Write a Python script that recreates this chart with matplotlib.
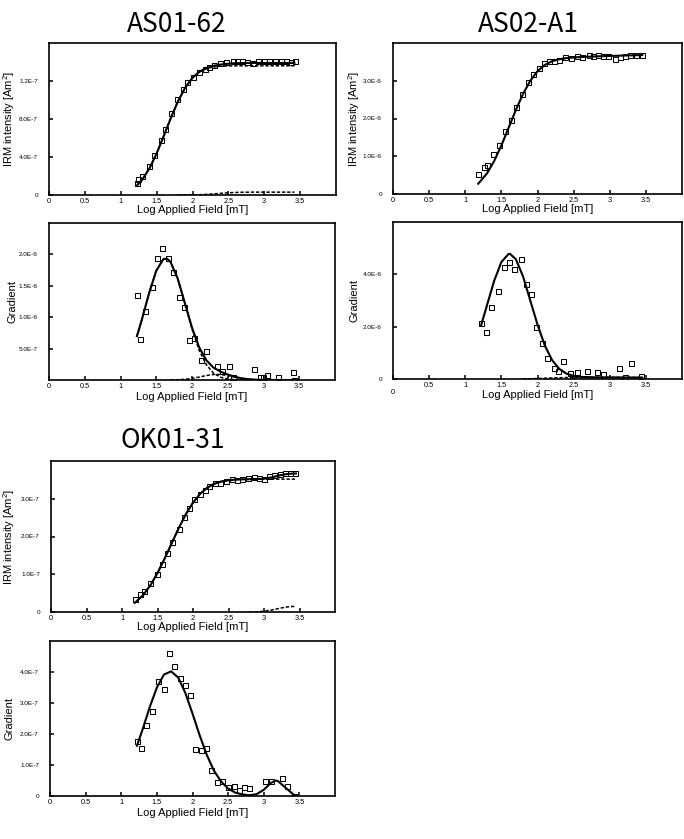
import numpy as np
import matplotlib
matplotlib.use("Agg")
import matplotlib.pyplot as plt

plt.rcParams['font.family'] = ['Liberation Sans', 'DejaVu Sans']
plt.rcParams['mathtext.fontset'] = 'custom'
plt.rcParams['mathtext.rm'] = 'Liberation Sans'
plt.rcParams['mathtext.it'] = 'Liberation Sans:italic'

# ==========================================
# AS01-62
# ==========================================
as01_irm_x = [1.22, 1.245, 1.30, 1.39, 1.47, 1.555, 1.61, 1.695, 1.78, 1.865, 1.93, 2.0,
              2.09, 2.17, 2.235, 2.305, 2.38, 2.46, 2.56, 2.625, 2.695, 2.76, 2.845, 2.915,
              2.995, 3.07, 3.15, 3.23, 3.31, 3.37, 3.435]
as01_irm_y = np.array([1.30, 1.72, 2.04, 3.05, 4.21, 5.75, 6.91, 8.60, 10.14, 11.12, 11.86, 12.39,
                       12.95, 13.30, 13.51, 13.68, 13.86, 13.96, 14.11, 14.07, 14.07, 14.04, 13.90, 14.07,
                       14.11, 14.11, 14.11, 14.11, 14.07, 13.96, 14.14]) * 1e-7
as01_fit_x = [1.23, 1.3, 1.4, 1.5, 1.6, 1.7, 1.8, 1.9, 2.0, 2.1, 2.2, 2.3, 2.4, 2.5, 2.6,
              2.7, 2.8, 3.0, 3.2, 3.42]
as01_irm_total = np.array([1.04, 1.62, 2.80, 4.37, 6.22, 8.14, 9.90, 11.32, 12.34, 13.00, 13.39,
                           13.61, 13.74, 13.82, 13.87, 13.89, 13.90, 13.90, 13.90, 13.90]) * 1e-7
as01_irm_c1 = np.array([1.04, 1.62, 2.80, 4.37, 6.22, 8.14, 9.90, 11.32, 12.33, 12.97, 13.32,
                        13.49, 13.56, 13.59, 13.60, 13.60, 13.60, 13.60, 13.60, 13.60]) * 1e-7
as01_c2_x = [1.8, 1.9, 2.0, 2.1, 2.2, 2.3, 2.4, 2.5, 2.6, 2.7, 2.8, 3.0, 3.2, 3.42]
as01_irm_c2 = np.array([0.0, 0.003, 0.012, 0.032, 0.068, 0.12, 0.18, 0.232, 0.268, 0.288,
                        0.297, 0.30, 0.30, 0.30]) * 1e-7

as01_grad_x = [1.23, 1.267, 1.342, 1.439, 1.509, 1.578, 1.662, 1.741, 1.815, 1.889, 1.964,
               2.033, 2.122, 2.196, 2.344, 2.414, 2.512, 2.577, 2.874, 2.957, 2.99, 3.046,
               3.199, 3.408, 3.43]
as01_grad_y = np.array([13.46, 6.60, 10.96, 14.84, 19.47, 21.01, 19.42, 17.24, 13.14, 11.60, 6.44,
                        6.70, 3.19, 4.58, 2.23, 1.49, 2.29, 0.53, 1.70, 0.48, 0.48, 0.74,
                        0.48, 1.22, 0.05]) * 1e-7
as01_gfit_x = [1.23, 1.3, 1.4, 1.5, 1.6, 1.65, 1.7, 1.8, 1.9, 2.0, 2.1, 2.2, 2.3, 2.4, 2.5,
               2.6, 2.7, 2.8, 2.9, 3.0, 3.2, 3.42]
as01_grad_total = np.array([6.99, 9.67, 13.84, 17.40, 19.26, 19.33, 18.79, 16.16, 12.28, 8.35,
                            5.21, 3.15, 1.98, 1.32, 0.87, 0.52, 0.25, 0.11, 0.04, 0.01, 0.0,
                            0.0]) * 1e-7
as01_grad_c1 = np.array([6.99, 9.67, 13.84, 17.40, 19.26, 19.33, 18.78, 16.12, 12.17, 8.10,
                         4.74, 2.44, 1.10, 0.44, 0.16, 0.05, 0.02, 0.0, 0.0, 0.0, 0.0,
                         0.0]) * 1e-7
as01_gc2_x = [1.7, 1.8, 1.9, 2.0, 2.1, 2.2, 2.3, 2.4, 2.5, 2.6, 2.7, 2.8, 2.9, 3.0, 3.42]
as01_grad_c2 = np.array([0.012, 0.04, 0.11, 0.25, 0.47, 0.71, 0.88, 0.88, 0.71, 0.47, 0.25,
                         0.11, 0.04, 0.012, 0.0]) * 1e-7

# ==========================================
# AS02-A1
# ==========================================
as02_irm_x = [1.172, 1.255, 1.302, 1.39, 1.469, 1.557, 1.627, 1.706, 1.785, 1.864, 1.943,
              2.018, 2.087, 2.162, 2.227, 2.301, 2.38, 2.459, 2.543, 2.613, 2.706, 2.775,
              2.84, 2.91, 2.98, 3.073, 3.143, 3.217, 3.287, 3.366, 3.45]
as02_irm_y = np.array([0.543, 0.703, 0.775, 1.051, 1.30, 1.656, 1.950, 2.306, 2.662, 2.965,
                       3.188, 3.348, 3.473, 3.517, 3.535, 3.553, 3.624, 3.597, 3.66, 3.633,
                       3.669, 3.651, 3.669, 3.66, 3.66, 3.589, 3.642, 3.651, 3.678, 3.687,
                       3.695]) * 1e-6
as02_fit_x = [1.18, 1.3, 1.4, 1.5, 1.6, 1.7, 1.8, 1.9, 2.0, 2.1, 2.2, 2.3, 2.4, 2.5, 2.6,
              2.8, 3.0, 3.2, 3.45]
as02_irm_total = np.array([0.273, 0.543, 0.871, 1.285, 1.752, 2.224, 2.652, 3.0, 3.253, 3.418,
                           3.516, 3.57, 3.60, 3.617, 3.628, 3.645, 3.657, 3.668, 3.68]) * 1e-6

as02_grad_x = [1.219, 1.284, 1.353, 1.447, 1.535, 1.605, 1.67, 1.767, 1.837, 1.907, 1.981,
               2.06, 2.135, 2.228, 2.284, 2.353, 2.456, 2.54, 2.679, 2.819, 2.907, 3.126,
               3.205, 3.288, 3.437]
as02_grad_y = np.array([2.146, 1.790, 2.756, 3.352, 4.292, 4.457, 4.203, 4.584, 3.619, 3.238,
                        1.981, 1.359, 0.813, 0.432, 0.317, 0.673, 0.216, 0.279, 0.292, 0.254,
                        0.178, 0.432, 0.089, 0.597, 0.127]) * 1e-6
as02_gfit_x = [1.22, 1.3, 1.4, 1.5, 1.6, 1.62, 1.7, 1.8, 1.9, 2.0, 2.1, 2.2, 2.3, 2.4, 2.5,
               2.6, 2.8, 3.0, 3.2, 3.45]
as02_grad_total = np.array([2.057, 2.81, 3.75, 4.47, 4.78, 4.78, 4.58, 3.92, 3.00, 2.08, 1.29,
                            0.73, 0.39, 0.205, 0.118, 0.08, 0.063, 0.06, 0.058, 0.055]) * 1e-6
as02_gc2_x = [1.8, 2.0, 2.2, 2.4, 2.6, 3.0, 3.45]
as02_grad_c2 = np.array([0.0, 0.02, 0.04, 0.055, 0.06, 0.06, 0.055]) * 1e-6

# ==========================================
# OK01-31
# ==========================================
ok01_irm_x = [1.179, 1.249, 1.306, 1.399, 1.488, 1.568, 1.638, 1.708, 1.797, 1.867, 1.937,
              2.012, 2.092, 2.162, 2.232, 2.307, 2.382, 2.471, 2.555, 2.62, 2.695, 2.77,
              2.854, 2.925, 2.995, 3.07, 3.145, 3.219, 3.294, 3.369, 3.439]
ok01_irm_y = np.array([0.337, 0.479, 0.55, 0.772, 0.994, 1.278, 1.562, 1.846, 2.209, 2.511,
                       2.76, 2.99, 3.132, 3.221, 3.336, 3.407, 3.425, 3.469, 3.523, 3.505,
                       3.531, 3.549, 3.567, 3.549, 3.523, 3.594, 3.638, 3.656, 3.673, 3.691,
                       3.673]) * 1e-7
ok01_fit_x = [1.18, 1.3, 1.4, 1.5, 1.6, 1.7, 1.8, 1.9, 2.0, 2.1, 2.2, 2.3, 2.4, 2.5, 2.6,
              2.7, 2.8, 2.9, 3.0, 3.1, 3.2, 3.3, 3.4, 3.45]
ok01_irm_total = np.array([0.242, 0.453, 0.708, 1.032, 1.413, 1.822, 2.226, 2.592, 2.896, 3.129,
                           3.292, 3.396, 3.458, 3.491, 3.507, 3.515, 3.518, 3.522, 3.532, 3.562,
                           3.61, 3.649, 3.666, 3.669]) * 1e-7
ok01_irm_c1 = np.array([0.242, 0.453, 0.708, 1.032, 1.413, 1.822, 2.226, 2.592, 2.896, 3.129,
                        3.292, 3.396, 3.458, 3.491, 3.507, 3.515, 3.518, 3.52, 3.52, 3.52,
                        3.52, 3.52, 3.52, 3.52]) * 1e-7
ok01_c2_x = [2.8, 2.9, 3.0, 3.1, 3.2, 3.3, 3.4, 3.45]
ok01_irm_c2 = np.array([0.0, 0.004, 0.02, 0.05, 0.09, 0.129, 0.146, 0.149]) * 1e-7

ok01_grad_x = [1.218, 1.278, 1.348, 1.437, 1.516, 1.595, 1.664, 1.743, 1.827, 1.897, 1.967,
               2.041, 2.12, 2.194, 2.264, 2.338, 2.417, 2.501, 2.585, 2.65, 2.724, 2.799,
               3.022, 3.106, 3.254, 3.329, 3.422]
ok01_grad_y = np.array([1.785, 1.538, 2.28, 2.73, 3.72, 3.45, 4.60, 4.18, 3.81, 3.57, 3.25,
                        1.527, 1.495, 1.548, 0.828, 0.441, 0.495, 0.301, 0.333, 0.183, 0.28,
                        0.269, 0.473, 0.473, 0.591, 0.323, 0.0]) * 1e-7
ok01_gfit_x = [1.22, 1.3, 1.4, 1.5, 1.6, 1.7, 1.8, 1.9, 2.0, 2.1, 2.2, 2.3, 2.4, 2.5, 2.6,
               2.7, 2.8, 2.9, 3.0, 3.1, 3.17, 3.2, 3.3, 3.4, 3.44]
ok01_grad_total = np.array([1.62, 2.15, 2.87, 3.50, 3.92, 4.02, 3.82, 3.32, 2.66, 1.96, 1.33,
                            0.82, 0.47, 0.24, 0.11, 0.05, 0.024, 0.06, 0.2, 0.42, 0.50, 0.48,
                            0.28, 0.08, 0.0]) * 1e-7

xticks = [0, 0.5, 1, 1.5, 2, 2.5, 3, 3.5]
xticklabels = ["0", "0.5", "1", "1.5", "2", "2.5", "3", "3.5"]

W, H = 684, 839
fig = plt.figure(figsize=(W / 100, H / 100), dpi=100)


def panel(box, px, py, lines, ylim, yticks, yticklabels, ylabel, ylab_off, xlab_off,
          low_zero=False):
    l, t, r, b = box
    ax = fig.add_axes([l / W, 1 - b / H, (r - l) / W, (b - t) / H])
    for fx, fy, solid in lines:
        if solid:
            ax.plot(fx, fy, color="black", lw=1.5, zorder=2)
        else:
            ax.plot(fx, fy, color="black", lw=1.1, ls=(0, (2.2, 1.2)), zorder=2)
    ax.plot(px, py, "s", ms=3.6, mfc="none", mec="black", mew=0.75, zorder=3)
    ax.set_xlim(0, 4)
    ax.set_ylim(*ylim)
    ax.set_xticks(xticks)
    labs = list(xticklabels)
    if low_zero:
        labs[0] = ""
        ax.annotate("0", xy=(0, 0), xycoords=("data", "axes fraction"), xytext=(0, -7.5),
                    textcoords="offset points", ha="center", va="top", fontsize=5.3)
    ax.set_xticklabels(labs)
    ax.set_yticks(yticks)
    ax.set_yticklabels(yticklabels)
    ax.tick_params(direction="in", length=3, width=1.1)
    ax.tick_params(axis="x", labelsize=5.3, pad=2.5)
    ax.tick_params(axis="y", labelsize=4.6, pad=8)
    for s in ax.spines.values():
        s.set_linewidth(1.2)
    ax.set_xlabel("Log Applied Field [mT]", fontsize=8, va="center")
    ax.xaxis.set_label_coords(0.5, -xlab_off / (b - t))
    ax.set_ylabel(ylabel, fontsize=8, va="center")
    ax.yaxis.set_label_coords(-ylab_off / (r - l), 0.5)
    return ax


irm_label = "IRM intensity [Am$^2$]"

panel((49, 43, 336, 195), as01_irm_x, as01_irm_y,
      [(as01_fit_x, as01_irm_c1, False), (as01_c2_x, as01_irm_c2, False),
       (as01_fit_x, as01_irm_total, True)],
      (0, 16e-7), [0, 4e-7, 8e-7, 12e-7], ["0", "4.0E-7", "8.0E-7", "1.2E-7"],
      irm_label, 40, 15)
panel((49, 223, 335, 380), as01_grad_x, as01_grad_y,
      [(as01_gfit_x, as01_grad_c1, False), (as01_gc2_x, as01_grad_c2, False),
       (as01_gfit_x, as01_grad_total, True)],
      (0, 25e-7), [5e-7, 10e-7, 15e-7, 20e-7], ["5.0E-7", "1.0E-6", "1.5E-6", "2.0E-6"],
      "Gradient", 37, 17)

panel((393, 43, 682, 194), as02_irm_x, as02_irm_y,
      [(as02_fit_x, as02_irm_total, True)],
      (0, 4.0e-6), [0, 1e-6, 2e-6, 3e-6], ["0", "1.0E-6", "2.0E-6", "3.0E-6"],
      irm_label, 39, 15)
panel((393, 222, 682, 379), as02_grad_x, as02_grad_y,
      [(as02_gc2_x, as02_grad_c2, False), (as02_gfit_x, as02_grad_total, True)],
      (0, 6.0e-6), [0, 2e-6, 4e-6], ["0", "2.0E-6", "4.0E-6"],
      "Gradient", 39, 15.5, low_zero=True)

panel((51, 461, 335, 612), ok01_irm_x, ok01_irm_y,
      [(ok01_fit_x, ok01_irm_c1, False), (ok01_c2_x, ok01_irm_c2, False),
       (ok01_fit_x, ok01_irm_total, True)],
      (0, 4.0e-7), [0, 1e-7, 2e-7, 3e-7], ["0", "1.0E-7", "2.0E-7", "3.0E-7"],
      irm_label, 42, 15)
panel((50, 641, 335, 796), ok01_grad_x, ok01_grad_y,
      [(ok01_gfit_x, ok01_grad_total, True)],
      (0, 5.0e-7), [0, 1e-7, 2e-7, 3e-7, 4e-7], ["0", "1.0E-7", "2.0E-7", "3.0E-7", "4.0E-7"],
      "Gradient", 40, 17)

title_font = ["Noto Sans CJK JP", "DejaVu Sans"]
fig.text(177 / W, 1 - 25 / H, "AS01-62", fontsize=19, family=title_font, ha="center", va="center")
fig.text(528 / W, 1 - 25 / H, "AS02-A1", fontsize=19, family=title_font, ha="center", va="center")
fig.text(173 / W, 1 - 440 / H, "OK01-31", fontsize=19, family=title_font, ha="center", va="center")

fig.savefig("out.png", dpi=100)
